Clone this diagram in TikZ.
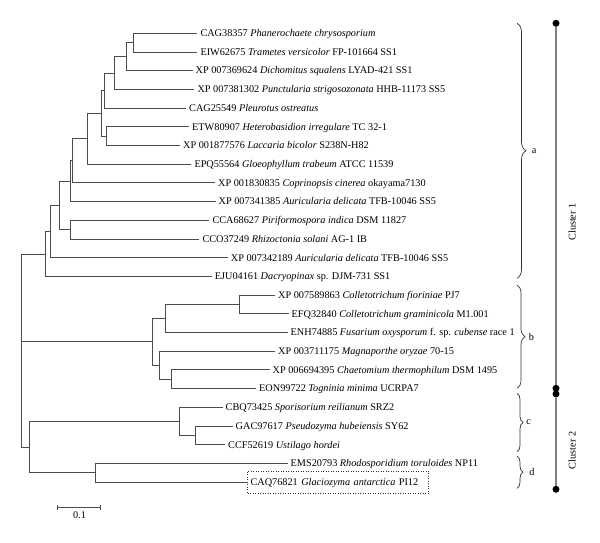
\documentclass[tikz,border=0pt]{standalone}
\usepackage{fontspec}
\setmainfont{Liberation Serif}
\usetikzlibrary{positioning, arrows.meta, decorations.pathreplacing}

\begin{document}
\begin{tikzpicture}[
    x=1pt, y=-1pt,
    font=\fontsize{10.25pt}{12pt}\selectfont,
    leaf/.style={anchor=west, inner xsep=3pt, inner ysep=0pt, text height=8.8pt, text depth=2.2pt},
    branch/.style={draw=black!70, line width=0.9pt},
    brace/.style={decorate, decoration={brace, amplitude=#1}, draw=black!80, line width=0.7pt},
    grp/.style={anchor=west, inner sep=0pt},
    dot/.style={circle, fill=black, inner sep=0pt, minimum size=7pt},
    clusterline/.style={draw=black!50, line width=1.6pt},
]
\useasboundingbox (0,0) rectangle (600,543);

% leaves
\node[leaf] (cag38357) at (197.3,33.3)  {CAG38357 \textit{Phanerochaete chrysosporium}};
\node[leaf] (eiw62675) at (197.3,52.0)  {EIW62675 \textit{Trametes versicolor} FP-101664 SS1};
\node[leaf] (xp7369624) at (192.5,70.7) {XP 007369624 \textit{Dichomitus squalens} LYAD-421 SS1};
\node[leaf] (xp7381302) at (194.3,89.4) {XP 007381302 \textit{Punctularia strigosozonata} HHB-11173 SS5};
\node[leaf] (cag25549) at (186.0,108.1) {CAG25549 \textit{Pleurotus ostreatus}};
\node[leaf] (etw80907) at (189.0,126.8) {ETW80907 \textit{Heterobasidion irregulare} TC 32-1};
\node[leaf] (xp1877576) at (180.0,145.5) {XP 001877576 \textit{Laccaria bicolor} S238N-H82};
\node[leaf] (epq55564) at (191.3,164.2) {EPQ55564 \textit{Gloeophyllum trabeum} ATCC 11539};
\node[leaf] (xp1830835) at (215.0,182.9) {XP 001830835 \textit{Coprinopsis cinerea} okayama7130};
\node[leaf] (xp7341385) at (215.5,201.6) {XP 007341385 \textit{Auricularia delicata} TFB-10046 SS5};
\node[leaf] (cca68627) at (209.3,220.3) {CCA68627 \textit{Piriformospora indica} DSM 11827};
\node[leaf] (cco37249) at (199.3,239.0) {CCO37249 \textit{Rhizoctonia solani} AG-1 IB};
\node[leaf] (xp7342189) at (227.7,257.7) {XP 007342189 \textit{Auricularia delicata} TFB-10046 SS5};
\node[leaf] (eju04161) at (211.7,276.4) {EJU04161 \textit{Dacryopinax} sp. DJM-731 SS1};
\node[leaf] (xp7589863) at (275.0,295.1) {XP 007589863 \textit{Colletotrichum fioriniae} PJ7};
\node[leaf] (efq32840) at (288.5,313.8) {EFQ32840 \textit{Colletotrichum graminicola} M1.001};
\node[leaf] (enh74885) at (287.5,332.5) {ENH74885 \textit{Fusarium oxysporum} f. sp. \textit{cubense} race 1};
\node[leaf] (xp3711175) at (275.0,351.2) {XP 003711175 \textit{Magnaporthe oryzae} 70-15};
\node[leaf] (xp6694395) at (269.5,369.9) {XP 006694395 \textit{Chaetomium thermophilum} DSM 1495};
\node[leaf] (eon99722) at (256.0,388.6) {EON99722 \textit{Togninia minima} UCRPA7};
\node[leaf] (cbq73425) at (222.5,407.3) {CBQ73425 \textit{Sporisorium reilianum} SRZ2};
\node[leaf] (gac97617) at (232.5,426.0) {GAC97617 \textit{Pseudozyma hubeiensis} SY62};
\node[leaf] (ccf52619) at (225.0,444.7) {CCF52619 \textit{Ustilago hordei}};
\node[leaf] (ems20793) at (287.5,463.4) {EMS20793 \textit{Rhodosporidium toruloides} NP11};
\node[leaf, draw=black!80, dash pattern=on 1pt off 1.5pt, line width=0.6pt,
      inner ysep=5.6pt, text width=175pt, align=left] (caq76821) at (247.3,482.1)
      {CAQ76821 \textit{Glaciozyma antarctica} PI12};

% internal nodes
\coordinate (a1)  at (133.3,42.65);
\coordinate (a2)  at (126.0,56.7);
\coordinate (a3)  at (114.3,73.05);
\coordinate (a4)  at (104.3,90.6);
\coordinate (a5)  at (106.7,136.15);
\coordinate (a6)  at (101.0,113.4);
\coordinate (a7)  at (87.3,138.8);
\coordinate (a8)  at (72.7,160.85);
\coordinate (a9)  at (70.7,181.2);
\coordinate (a10) at (70.0,229.65);
\coordinate (a11) at (59.3,205.4);
\coordinate (a12) at (50.7,231.55);
\coordinate (a13) at (45.0,254.0);
\coordinate (b1)  at (239.3,304.45);
\coordinate (b2)  at (165.0,318.5);
\coordinate (b3)  at (171.7,379.25);
\coordinate (b4)  at (159.3,365.2);
\coordinate (b5)  at (152.7,341.85);
\coordinate (c1)  at (195.7,435.35);
\coordinate (c2)  at (179.3,421.3);
\coordinate (d1)  at (95.7,472.75);
\coordinate (cd)  at (29.3,447.0);
\coordinate (root) at (21.0,341.85);

\draw[branch] (a1) |- (cag38357.west) (a1) |- (eiw62675.west);
\draw[branch] (a2) |- (a1) (a2) |- (xp7369624.west);
\draw[branch] (a3) |- (a2) (a3) |- (xp7381302.west);
\draw[branch] (a4) |- (a3) (a4) |- (cag25549.west);
\draw[branch] (a5) |- (etw80907.west) (a5) |- (xp1877576.west);
\draw[branch] (a6) |- (a4) (a6) |- (a5);
\draw[branch] (a7) |- (a6) (a7) |- (epq55564.west);
\draw[branch] (a8) |- (a7) (a8) |- (xp1830835.west);
\draw[branch] (a9) |- (a8) (a9) |- (xp7341385.west);
\draw[branch] (a10) |- (cca68627.west) (a10) |- (cco37249.west);
\draw[branch] (a11) |- (a9) (a11) |- (a10);
\draw[branch] (a12) |- (a11) (a12) |- (xp7342189.west);
\draw[branch] (a13) |- (a12) (a13) |- (eju04161.west);
\draw[branch] (b1) |- (xp7589863.west) (b1) |- (efq32840.west);
\draw[branch] (b2) |- (b1) (b2) |- (enh74885.west);
\draw[branch] (b3) |- (xp6694395.west) (b3) |- (eon99722.west);
\draw[branch] (b4) |- (xp3711175.west) (b4) |- (b3);
\draw[branch] (b5) |- (b2) (b5) |- (b4);
\draw[branch] (c1) |- (gac97617.west) (c1) |- (ccf52619.west);
\draw[branch] (c2) |- (cbq73425.west) (c2) |- (c1);
\draw[branch] (d1) |- (ems20793.west) (d1) |- (caq76821.west);
\draw[branch] (cd) |- (c2) (cd) |- (d1);
\draw[branch] (root) |- (a13) (root) |- (b5) (root) |- (cd);

% groups
\draw[brace=9pt] (517,23.3) -- (517,278.3) node[midway, grp, xshift=14.5pt] {a};
\draw[brace=8pt] (517,285) -- (517,388.3) node[midway, grp, xshift=11.5pt] {b};
\draw[brace=6pt] (517,393.3) -- (517,451.7) node[midway, grp, xshift=9pt] {c};
\draw[brace=6pt] (517,456) -- (517,488.3) node[midway, grp, xshift=12pt] {d};

% clusters
\node[dot] (top) at (556,23.3) {};
\node[dot] (mid1) at (556,388.3) {};
\node[dot] (mid2) at (556,394) {};
\node[dot] (bot) at (556,489.3) {};
\draw[clusterline] (top) -- (mid1);
\draw[clusterline] (mid2) -- (bot);
\node[rotate=90] (cl1) at (572,222) {Cluster 1};
\node[rotate=90] (cl2) at (572,450.5) {Cluster 2};

% scale
\coordinate (sb0) at (56.7,507.5);
\coordinate (sb1) at (101,507.5);
\draw[branch, {Bar[width=5pt]}-{Bar[width=5pt]}] (sb0) -- (sb1);
\node (sbl) at (79.5,515.5) {0.1};
\end{tikzpicture}
\end{document}
